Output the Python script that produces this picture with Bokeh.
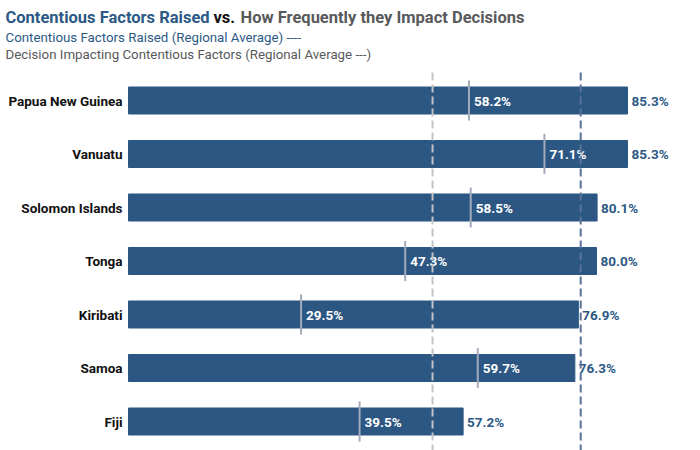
from bokeh.plotting import figure
from bokeh.models import Range1d, Label, ColumnDataSource
from bokeh.embed import file_html
from bokeh.resources import INLINE
from bokeh.core.properties import value

countries = ["Papua New Guinea", "Vanuatu", "Solomon Islands", "Tonga", "Kiribati", "Samoa", "Fiji"]
raised = [85.3, 85.3, 80.1, 80.0, 76.9, 76.3, 57.2]
impacting = [58.2, 71.1, 58.5, 47.3, 29.5, 59.7, 39.5]

avg_raised = sum(raised) / len(raised)
avg_impact = sum(impacting) / len(impacting)

BAR = "#2c5783"
BLUE_TXT = "#2c5985"
GRAY_TXT = "#58595b"
FONT = "Roboto"

W, H = 700, 450
X0_PX = 128.0      # pixel where value 0 sits
PX_PER_PCT = 5.85
ROW0_PX = 100.0    # pixel center of first row
ROW_PX = 53.5      # row spacing


def dx(px):
    return (px - X0_PX) / PX_PER_PCT


def dy(py):
    return (py - ROW0_PX) / ROW_PX


pos = list(range(len(countries)))
src = ColumnDataSource(dict(
    y=pos, zero=[0] * len(pos), raised=raised, impacting=impacting,
    rlab=[f"{v:.1f}%" for v in raised],
    ilab=[f"{v:.1f}%" for v in impacting],
    names=countries,
    m0=[v - 0.375 for v in pos], m1=[v + 0.375 for v in pos],
))

p = figure(width=W, height=H, output_backend="svg", toolbar_location=None,
           x_range=Range1d(dx(0), dx(W)), y_range=Range1d(dy(H), dy(0)),
           min_border_left=0, min_border_right=0, min_border_top=0, min_border_bottom=0)
p.outline_line_color = None
p.grid.visible = False
p.axis.visible = False
p.background_fill_color = "white"

p.hbar(y="y", left=0, right="raised", height=0.505, color=BAR, source=src)

p.segment(x0="impacting", x1="impacting", y0="m0", y1="m1",
          line_color="#a3abba", line_width=2, source=src)

p.text(x="impacting", y="y", text="ilab", x_offset=5, text_baseline="middle",
       text_color="white", text_font=value(FONT), text_font_style="bold",
       text_font_size="13.5px", source=src)
p.text(x="raised", y="y", text="rlab", x_offset=4, text_baseline="middle",
       text_color=BLUE_TXT, text_font=value(FONT), text_font_style="bold",
       text_font_size="13.5px", source=src)
p.text(x="zero", y="y", text="names", x_offset=-6, text_align="right", text_baseline="middle",
       text_color="#111111", text_font=value(FONT), text_font_style="bold",
       text_font_size="13.5px", source=src)

top_y = dy(72)
bot_y = dy(H)
p.segment(x0=[avg_impact], x1=[avg_impact], y0=[top_y], y1=[bot_y],
          line_color="#c4c4c4", line_width=2, line_dash="8 4")
p.segment(x0=[avg_raised], x1=[avg_raised], y0=[top_y], y1=[bot_y],
          line_color="#5a739a", line_width=2, line_dash="8 4")


def lab(px, py, t, color, size, bold=False):
    p.add_layout(Label(x=dx(px), y=dy(py), text=t,
                       text_color=color, text_font=FONT, text_font_size=size,
                       text_font_style="bold" if bold else "normal",
                       text_baseline="middle"))


lab(5, 17, "Contentious Factors Raised", BLUE_TXT, "16.5px", True)
lab(213, 17, "vs.", "#111111", "16.5px", True)
lab(240, 17, "How Frequently they Impact Decisions", GRAY_TXT, "16.5px", True)
lab(5, 37, "Contentious Factors Raised (Regional Average) ----", BLUE_TXT, "13.3px")
lab(5, 54, "Decision Impacting Contentious Factors (Regional Average ---)", GRAY_TXT, "13.3px")

open("out.html", "w").write(file_html(p, INLINE))
